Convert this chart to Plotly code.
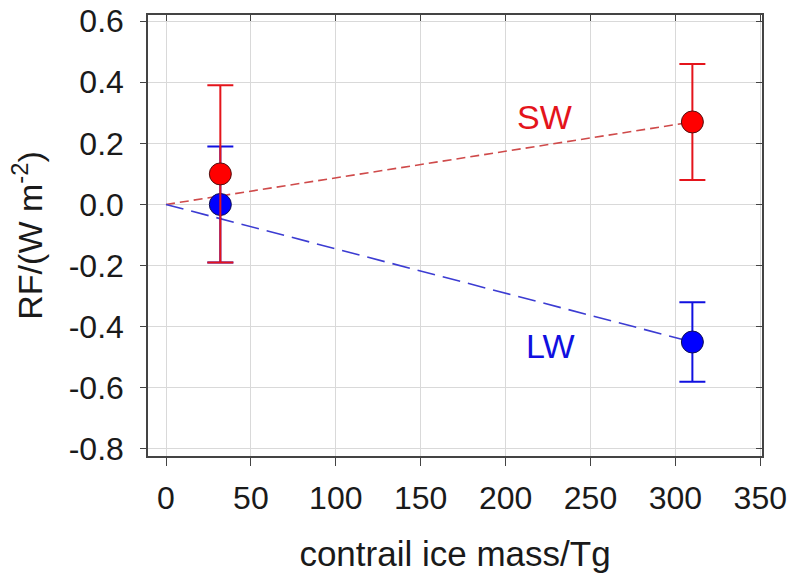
import plotly.graph_objects as go

# data
mass = [32, 310]
sw_rf = [0.10, 0.27]
sw_err = [0.29, 0.19]
lw_rf = [0.00, -0.45]
lw_err = [0.19, 0.13]
fit_x = [0, 310]
sw_fit = [0, 0.27]
lw_fit = [0, -0.45]

x_ticks = [0, 50, 100, 150, 200, 250, 300, 350]
y_ticks = [-0.8, -0.6, -0.4, -0.2, 0.0, 0.2, 0.4, 0.6]
y_labels = ["-0.8", "-0.6", "-0.4", "-0.2", "0.0", "0.2", "0.4", "0.6"]

RED = "#e4141b"
BLUE = "#1010e0"
FONT = "Liberation Sans, Arial, sans-serif"

fig = go.Figure()
fig.add_trace(go.Scatter(x=fit_x, y=sw_fit, mode="lines",
                         line=dict(color="#cf4a4a", width=1.6, dash="9px,5px"),
                         showlegend=False, hoverinfo="skip"))
fig.add_trace(go.Scatter(x=fit_x, y=lw_fit, mode="lines",
                         line=dict(color="#3c3cd2", width=1.6, dash="18px,8px"),
                         showlegend=False, hoverinfo="skip"))
fig.add_trace(go.Scatter(x=mass, y=lw_rf, mode="markers",
                         marker=dict(size=22, color="#0000ff", line=dict(color="#101050", width=1)),
                         error_y=dict(type="data", array=lw_err, color=BLUE, thickness=2, width=13),
                         showlegend=False))
fig.add_trace(go.Scatter(x=mass, y=sw_rf, mode="markers",
                         marker=dict(size=22, color="#ff0000", line=dict(color="#501010", width=1)),
                         error_y=dict(type="data", array=sw_err, color=RED, thickness=2, width=13),
                         showlegend=False))
# invisible trace for mirrored inside-ticks axes
fig.add_trace(go.Scatter(x=[0], y=[0], xaxis="x2", yaxis="y2", mode="markers",
                         marker=dict(opacity=0), showlegend=False, hoverinfo="skip"))

fig.add_annotation(x=223, y=0.285, text="SW", showarrow=False,
                   font=dict(family=FONT, size=34, color=RED))
fig.add_annotation(x=226, y=-0.462, text="LW", showarrow=False,
                   font=dict(family=FONT, size=34, color=BLUE))

xr = [-10.6, 351]
yr = [-0.823, 0.62]
axcol = "#444444"
fig.update_layout(
    width=792, height=575,
    margin=dict(l=148, r=30, t=15, b=119, autoexpand=False),
    plot_bgcolor="white", paper_bgcolor="white",
    font=dict(family=FONT, size=32, color="#1a1a1a"),
    xaxis=dict(range=xr, tickvals=x_ticks, showgrid=True, gridcolor="#d9d9d9", gridwidth=1,
               zeroline=False, showline=True, linecolor=axcol, linewidth=1.5, mirror=True,
               ticks="outside", ticklen=8, tickcolor=axcol, tickfont=dict(size=32),
               ticklabelstandoff=5, automargin=False,
               title=dict(text="contrail ice mass/Tg", font=dict(size=35), standoff=26)),
    yaxis=dict(range=yr, tickvals=y_ticks, ticktext=y_labels, showgrid=True, gridcolor="#d9d9d9",
               gridwidth=1, zeroline=False, showline=True, linecolor=axcol, linewidth=1.5,
               mirror=True, ticks="outside", ticklen=6, tickcolor=axcol, tickfont=dict(size=32),
               ticklabelstandoff=10, automargin=False,
               title=dict(text="RF/(W m<sup>-2</sup>)", font=dict(size=34), standoff=16)),
    xaxis2=dict(range=xr, tickvals=x_ticks, overlaying="x", side="top", ticks="inside",
                ticklen=6, tickcolor=axcol, showticklabels=False, showgrid=False, zeroline=False,
                automargin=False),
    yaxis2=dict(range=yr, tickvals=y_ticks, overlaying="y", side="right", ticks="inside",
                ticklen=6, tickcolor=axcol, showticklabels=False, showgrid=False, zeroline=False,
                automargin=False),
)
fig.write_html("out.html")
